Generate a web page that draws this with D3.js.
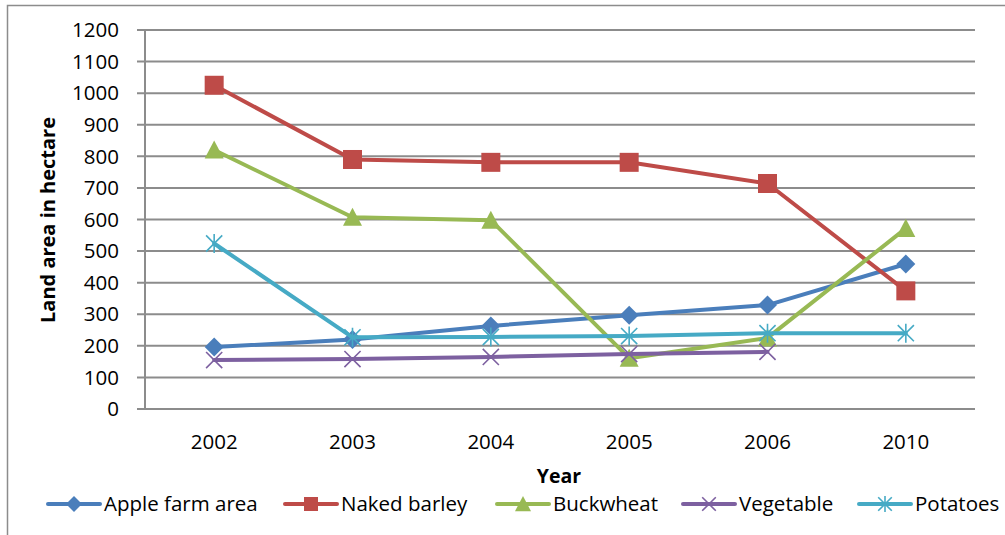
<!DOCTYPE html>
<html><head><meta charset="utf-8">
<script src="https://cdn.jsdelivr.net/npm/d3@7"></script>
<style>body{margin:0;background:#fff;} svg{display:block;} text{font-family:"Open Sans", Lato, sans-serif;}</style>
</head><body><svg id="c" width="1005" height="535"></svg>
<script>
const years = ["2002","2003","2004","2005","2006","2010"];
const yTicks = [0,100,200,300,400,500,600,700,800,900,1000,1100,1200];
const seriesNames = ["Apple farm area","Naked barley","Buckwheat","Vegetable","Potatoes"];
const appleFarm = [196, 220, 263, 297, 329, 459];
const nakedBarley = [1025, 790, 781, 781, 714, 374];
const buckwheat = [820, 607, 598, 161, 225, 572];
const vegetable = [155, 158, 165, 174, 181, null];
const potatoes = [524, 227, 228, 231, 240, 240];
const colors = ["#4A7EBB","#BE4B48","#98B954","#7D60A0","#46AAC5"];
const markers = ["diamond","square","triangle","x","star"];

const svg = d3.select("#c");
svg.append("rect").attr("x",7.5).attr("y",5.5).attr("width",1010).attr("height",540)
  .attr("fill","none").attr("stroke","#8C8C8C").attr("stroke-width",1.5);

const x = d3.scaleBand().domain(years).range([145,975]);
const y = d3.scaleLinear().domain([0,1200]).range([409,30]);
const cx = d => x(d) + x.bandwidth()/2;

// gridlines
svg.append("g").selectAll("line").data(yTicks).join("line")
  .attr("x1",137).attr("x2",975).attr("y1",d=>y(d)).attr("y2",d=>y(d))
  .attr("stroke","#8C8C8C").attr("stroke-width",2);
svg.append("line").attr("x1",145).attr("x2",145).attr("y1",y(1200)).attr("y2",y(0)+1)
  .attr("stroke","#8C8C8C").attr("stroke-width",2);

// y tick labels
svg.append("g").selectAll("text").data(yTicks).join("text")
  .attr("x",119).attr("y",d=>y(d)).attr("dy","0.35em").attr("text-anchor","end")
  .attr("font-size",20.5).attr("fill","#000").text(d=>d);
// x tick labels
svg.append("g").selectAll("text").data(years).join("text")
  .attr("x",d=>cx(d)).attr("y",442).attr("dy","0.35em").attr("text-anchor","middle")
  .attr("font-size",20.5).attr("fill","#000").text(d=>d);

svg.append("text").attr("transform","translate(48,220) rotate(-90)").attr("dy","0.35em")
  .attr("text-anchor","middle").attr("font-size",20).attr("font-weight","bold").text("Land area in hectare");
svg.append("text").attr("x",559).attr("y",476).attr("dy","0.35em")
  .attr("text-anchor","middle").attr("font-size",19.5).attr("font-weight","bold").text("Year");

function drawMarker(g, type, color, px, py, s) {
  if (type==="diamond") {
    g.append("path").attr("d",`M${px},${py-s}L${px+s},${py}L${px},${py+s}L${px-s},${py}Z`).attr("fill",color);
  } else if (type==="square") {
    g.append("rect").attr("x",px-s).attr("y",py-s).attr("width",s*2).attr("height",s*2).attr("fill",color);
  } else if (type==="triangle") {
    g.append("path").attr("d",`M${px},${py-s}L${px+s},${py+s*0.9}L${px-s},${py+s*0.9}Z`).attr("fill",color);
  } else if (type==="x") {
    const r=s*0.85;
    g.append("path").attr("d",`M${px-r},${py-r}L${px+r},${py+r}M${px-r},${py+r}L${px+r},${py-r}`)
      .attr("stroke",color).attr("stroke-width",1.6).attr("fill","none");
  } else if (type==="star") {
    const r=s*0.85;
    g.append("path").attr("d",`M${px-r},${py-r}L${px+r},${py+r}M${px-r},${py+r}L${px+r},${py-r}M${px},${py-s}L${px},${py+s}`)
      .attr("stroke",color).attr("stroke-width",1.6).attr("fill","none");
  }
}

const allSeries = [appleFarm, nakedBarley, buckwheat, vegetable, potatoes];
const line = d3.line().defined(d=>d.v!=null).x(d=>cx(d.yr)).y(d=>y(d.v));
allSeries.forEach((vals,i)=>{
  const pts = years.map((yr,j)=>({yr, v:vals[j]}));
  const g = svg.append("g");
  g.append("path").datum(pts).attr("d",line).attr("fill","none").attr("stroke",colors[i])
    .attr("stroke-width",4).attr("stroke-linejoin","round").attr("stroke-linecap","round");
  pts.filter(p=>p.v!=null).forEach(p=>drawMarker(g, markers[i], colors[i], cx(p.yr), y(p.v), 9.5));
});

// legend
const legX = [48, 285, 497, 683, 859];
const lg = svg.append("g");
seriesNames.forEach((n,i)=>{
  const ly = 504;
  lg.append("line").attr("x1",legX[i]).attr("x2",legX[i]+52).attr("y1",ly).attr("y2",ly)
    .attr("stroke",colors[i]).attr("stroke-width",4).attr("stroke-linecap","round");
  drawMarker(lg, markers[i], colors[i], legX[i]+26, ly, i===1?7:8);
  lg.append("text").attr("x",legX[i]+56).attr("y",ly).attr("dy","0.35em").attr("font-size",20.5).text(n);
});
</script></body></html>
